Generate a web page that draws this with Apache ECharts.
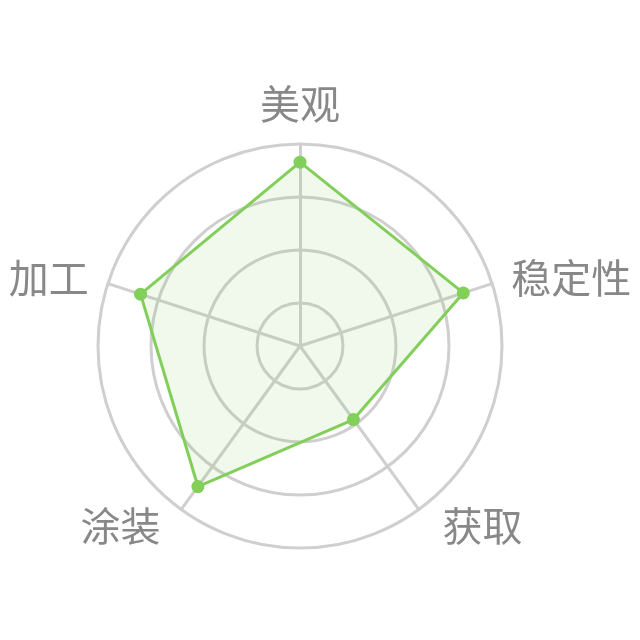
<!DOCTYPE html>
<html>
<head>
<meta charset="utf-8">
<script src="https://cdn.jsdelivr.net/npm/echarts@6/dist/echarts.min.js"></script>
<style>
html,body{margin:0;padding:0;background:#fff;}
#chart{width:640px;height:640px;}
</style>
</head>
<body>
<div id="chart"></div>
<script>
// Indicators (in ECharts counter-clockwise order starting at top)
const indicatorNames = ['美观', '加工', '涂装', '获取', '稳定性'];
const indicatorMax = 100;
// Series values
const seriesValues = [91, 83, 86, 45, 85];
// Ring scale (split circles)
const ringMin = 3.8;
const ringMax = 80;

const CENTER = [300, 346];
const RADIUS = 202;

const chart = echarts.init(document.getElementById('chart'));
chart.setOption({
  backgroundColor: '#fff',
  animation: false,
  polar: { center: CENTER, radius: RADIUS },
  angleAxis: { show: false, min: 0, max: 360 },
  radiusAxis: {
    type: 'value', min: ringMin, max: ringMax, splitNumber: 4,
    axisLine: { show: false }, axisTick: { show: false }, axisLabel: { show: false },
    splitLine: { show: true, lineStyle: { color: '#cfcfcf', width: 3 } },
    z: 0
  },
  radar: {
    center: CENTER,
    radius: RADIUS,
    shape: 'circle',
    splitNumber: 4,
    axisNameGap: 20,
    indicator: indicatorNames.map(n => ({ name: n, max: indicatorMax, min: 0 })),
    axisName: {
      color: '#888888',
      fontSize: 40,
      fontFamily: 'Noto Sans CJK SC',
      formatter: function (name) {
        if (name === '获取') return '{r|' + name + '}';
        if (name === '涂装') return '{l|' + name + '}';
        return '{n|' + name + '}';
      },
      rich: {
        n: { color: '#888888', fontSize: 40, fontFamily: 'Noto Sans CJK SC' },
        r: { color: '#888888', fontSize: 40, fontFamily: 'Noto Sans CJK SC', padding: [0, 0, 0, 12] },
        l: { color: '#888888', fontSize: 40, fontFamily: 'Noto Sans CJK SC', padding: [0, 9, 0, 0] }
      }
    },
    axisLine: { lineStyle: { color: '#cfcfcf', width: 3 } },
    splitLine: { show: false },
    splitArea: { show: false }
  },
  series: [{
    type: 'radar',
    symbol: 'circle',
    symbolSize: 13,
    lineStyle: { color: '#82cf5a', width: 3 },
    itemStyle: { color: '#82cf5a' },
    areaStyle: { color: 'rgba(130, 207, 90, 0.17)' },
    data: [{ value: seriesValues, name: 'score' }]
  }]
});
</script>
</body>
</html>
